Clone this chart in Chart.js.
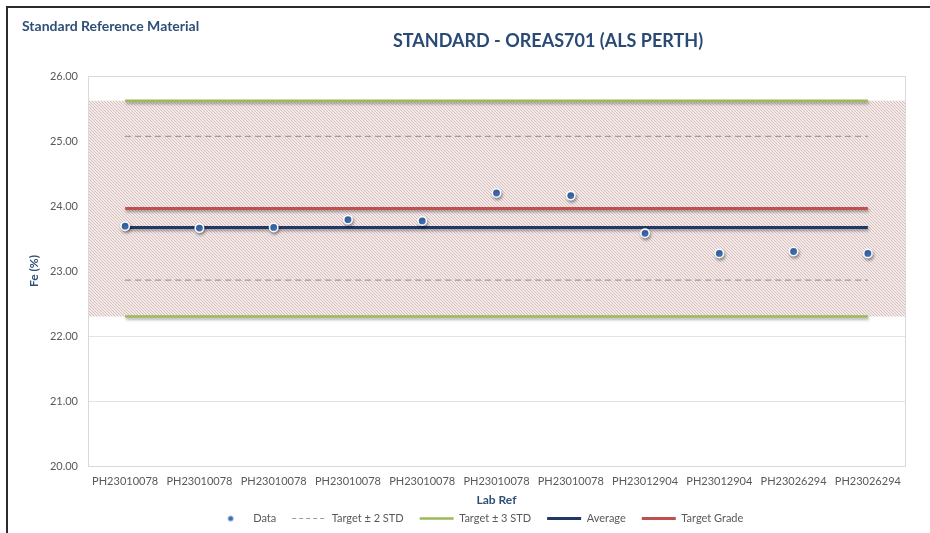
<!DOCTYPE html>
<html><head><meta charset="utf-8">
<script src="https://cdn.jsdelivr.net/npm/chart.js@4.4.1/dist/chart.umd.min.js"></script>
<style>
html,body{margin:0;padding:0;background:#fff;}
#wrap{position:relative;width:930px;height:533px;overflow:hidden;font-family:Lato,"Open Sans",sans-serif;}
#frame{position:absolute;left:6px;top:6px;width:940px;height:540px;border-left:2px solid #2b2b2b;border-top:2px solid #2b2b2b;}
canvas{position:absolute;left:0;top:0;}
#sub{position:absolute;left:22px;top:17px;font-weight:bold;font-size:14px;color:#2f4f78;white-space:nowrap;}
#title{position:absolute;left:548px;top:29px;transform:translateX(-50%);white-space:nowrap;font-weight:bold;font-size:18px;color:#2a4a75;}
</style></head><body>
<div id="wrap">
<canvas id="c" width="930" height="533"></canvas>
<div id="frame"></div>
<div id="sub">Standard Reference Material</div>
<div id="title">STANDARD - OREAS701 (ALS PERTH)</div>
</div>
<script>
// ---- data ----
const labRefs = ["PH23010078","PH23010078","PH23010078","PH23010078","PH23010078","PH23010078","PH23010078","PH23012904","PH23012904","PH23026294","PH23026294"];
const feValues = [23.69, 23.66, 23.67, 23.79, 23.77, 24.20, 24.16, 23.58, 23.27, 23.30, 23.27];
const targetGrade = 23.96;
const averageGrade = 23.67;
const plus2Std = 25.07;
const minus2Std = 22.86;
const plus3Std = 25.62;
const minus3Std = 22.30;
const yTickValues = [20, 21, 22, 23, 24, 25, 26];

// ---- styling helpers ----
const TXT = '#595959';
const FONT = 'Lato, "Open Sans", sans-serif';

function hatchPattern() {
  const c = document.createElement('canvas');
  c.width = 3; c.height = 3;
  const x = c.getContext('2d');
  x.fillStyle = '#f3eaea';
  x.fillRect(0, 0, 3, 3);
  x.fillStyle = '#d9bcbc';
  for (let i = 0; i < 3; i++) x.fillRect(i, i, 1, 1);
  return x.createPattern(c, 'repeat');
}
function dotImage() {
  const c = document.createElement('canvas');
  c.width = 8; c.height = 8;
  const x = c.getContext('2d');
  x.fillStyle = '#3e6fb3';
  x.beginPath(); x.arc(4, 4, 2.6, 0, Math.PI * 2); x.fill();
  return c;
}
const legendDot = dotImage();

const constLine = v => labRefs.map(() => v);

const ctx = document.getElementById('c').getContext('2d');
const band = hatchPattern();

const bandPlugin = {
  id: 'band',
  beforeDatasetsDraw(chart) {
    const {ctx, chartArea: a, scales: {y}} = chart;
    const top = y.getPixelForValue(plus3Std);
    const bot = y.getPixelForValue(minus3Std);
    ctx.save();
    ctx.fillStyle = band;
    ctx.fillRect(a.left, top, a.right - a.left, bot - top);
    ctx.restore();
  },
  afterDraw(chart) {
    const {ctx, chartArea: a} = chart;
    ctx.save();
    ctx.strokeStyle = '#d9d9d9';
    ctx.lineWidth = 1;
    ctx.strokeRect(Math.round(a.left) + 0.5, Math.round(a.top) + 0.5, Math.round(a.right - a.left), Math.round(a.bottom - a.top));
    ctx.restore();
  }
};
const shadowPlugin = {
  id: 'shadow',
  beforeDatasetDraw(chart, args) {
    const ds = chart.data.datasets[args.index];
    chart.ctx.save();
    if (ds.shadow) {
      chart.ctx.shadowColor = 'rgba(0,0,0,0.35)';
      chart.ctx.shadowBlur = 3;
      chart.ctx.shadowOffsetX = 1;
      chart.ctx.shadowOffsetY = 2;
    }
  },
  afterDatasetDraw(chart) { chart.ctx.restore(); }
};
const legendPos = {
  id: 'legendPos',
  afterInit(chart) {
    const lg = chart.legend;
    if (lg && !lg._patched) {
      const orig = lg.fit.bind(lg);
      lg.fit = function () { orig(); this.height = 26; };
      lg._patched = true;
    }
  },
  beforeDraw(chart) {
    if (chart.legend) {
      chart.legend.top = 497; chart.legend.bottom = 533;
      chart.legend.left = 36; chart.legend.right = 921;
    }
  }
};

new Chart(ctx, {
  type: 'line',
  data: {
    labels: labRefs,
    datasets: [
      { label: 'Data', data: feValues, showLine: false, pointRadius: 4.2, pointHoverRadius: 4.2,
        pointBackgroundColor: '#3e6fb3', pointBorderColor: 'rgba(255,255,255,0.95)', pointBorderWidth: 1.6,
        backgroundColor: '#3e6fb3', borderColor: '#3e6fb3', shadow: true, inLegend: true },
      { label: 'Target \u00b1 2 STD', data: constLine(plus2Std), borderColor: '#9c9c9c', backgroundColor: '#9c9c9c',
        borderWidth: 1.2, borderDash: [6, 4], pointRadius: 0, inLegend: true },
      { label: 'Target \u00b1 3 STD', data: constLine(plus3Std), borderColor: '#9bbb59', backgroundColor: '#9bbb59',
        borderWidth: 2.5, pointRadius: 0, shadow: true, inLegend: true },
      { label: 'Average', data: constLine(averageGrade), borderColor: '#1f3864', backgroundColor: '#1f3864',
        borderWidth: 3, pointRadius: 0, shadow: true, inLegend: true },
      { label: 'Target Grade', data: constLine(targetGrade), borderColor: '#c0504d', backgroundColor: '#c0504d',
        borderWidth: 3, pointRadius: 0, shadow: true, inLegend: true },
      { label: 'Target - 2 STD', data: constLine(minus2Std), borderColor: '#9c9c9c',
        borderWidth: 1.2, borderDash: [6, 4], pointRadius: 0, inLegend: false },
      { label: 'Target - 3 STD', data: constLine(minus3Std), borderColor: '#9bbb59',
        borderWidth: 2.5, pointRadius: 0, shadow: true, inLegend: false }
    ]
  },
  options: {
    responsive: false,
    animation: false,
    devicePixelRatio: 1,
    layout: { padding: { left: 20, top: 76, right: 25, bottom: 0 } },
    plugins: {
      title: { display: false },
      tooltip: { enabled: false },
      legend: {
        position: 'bottom',
        labels: {
          usePointStyle: true,
          pointStyleWidth: 34,
          boxHeight: 11,
          padding: 16,
          color: TXT,
          font: { family: FONT, size: 11 },
          filter: (item, data) => data.datasets[item.datasetIndex].inLegend,
          generateLabels(chart) {
            const items = Chart.defaults.plugins.legend.labels.generateLabels(chart);
            items.forEach(it => {
              const ds = chart.data.datasets[it.datasetIndex];
              if (it.datasetIndex === 0) { it.pointStyle = legendDot; }
              else {
                it.pointStyle = 'line';
                it.strokeStyle = ds.borderColor;
                it.lineWidth = ds.borderWidth;
                it.lineDash = ds.borderDash ? [4, 3] : [];
              }
            });
            return items;
          }
        }
      }
    },
    scales: {
      x: {
        offset: true,
        grid: { display: false, drawTicks: false },
        border: { display: true, color: '#d9d9d9' },
        ticks: { color: TXT, font: { family: FONT, size: 11 }, padding: 9, maxRotation: 0, autoSkip: false },
        title: { display: true, text: 'Lab Ref', color: '#2f4f78', font: { family: FONT, size: 12, weight: 'bold' }, padding: { top: 0, bottom: 0 } },
        afterFit(s) { s.height = 41; }
      },
      y: {
        min: 20, max: 26,
        afterBuildTicks(s) { s.ticks = yTickValues.map(v => ({ value: v })); },
        grid: { color: '#e3e3e3', drawTicks: false },
        border: { display: true, color: '#d9d9d9' },
        ticks: { color: TXT, font: { family: FONT, size: 11 }, padding: 10, callback: v => Number(v).toFixed(2) },
        title: { display: true, text: 'Fe (%)', color: '#2f4f78', font: { family: FONT, size: 12, weight: 'bold' }, padding: { top: 7, bottom: 0 } },
        afterFit(s) { s.width = 68; }
      }
    }
  },
  plugins: [bandPlugin, shadowPlugin, legendPos]
});
</script>
</body></html>
